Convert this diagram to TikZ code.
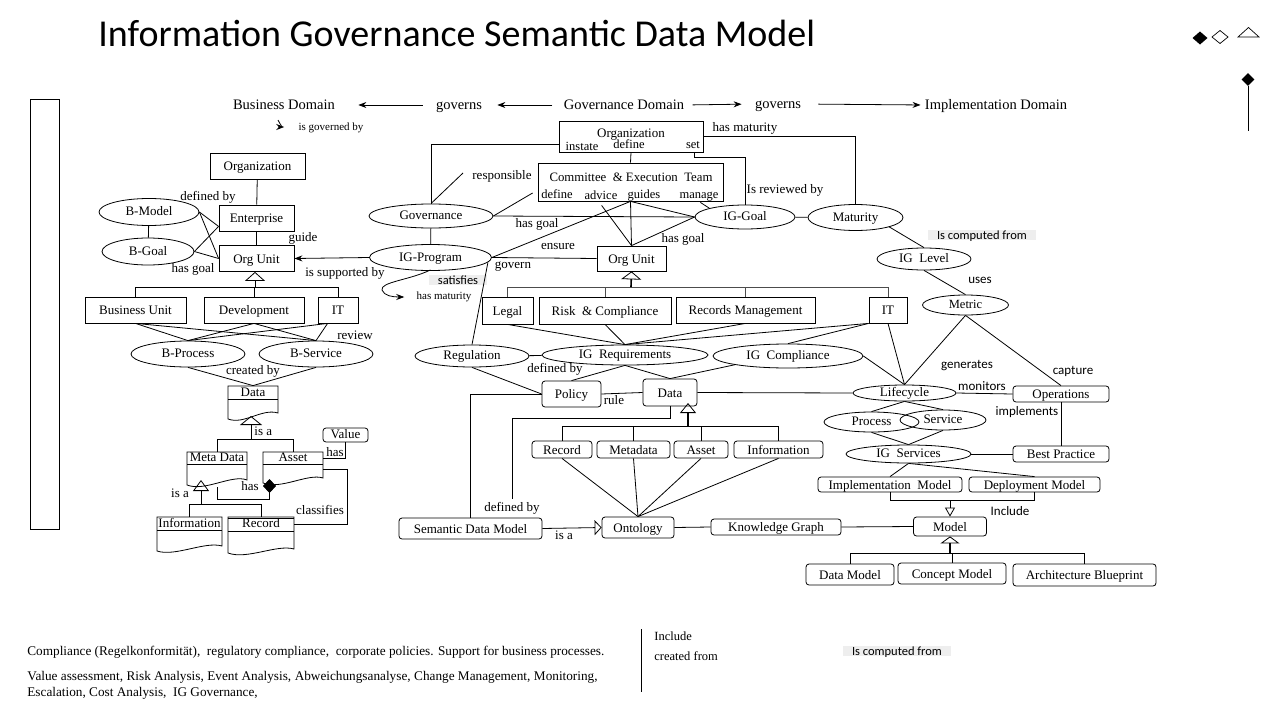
\documentclass[tikz,border=0pt]{standalone}
\usepackage{fontspec}
\setmainfont{Liberation Serif}
\newfontfamily\calfont{Carlito}
\usetikzlibrary{shapes.geometric,arrows.meta,calc}
\newcommand\myfs[1]{\fontsize{#1}{#1}\selectfont}
\begin{document}
\begin{tikzpicture}[x=1pt,y=-1pt, line width=0.8pt,
  box/.style={draw, rectangle, inner sep=0pt, font=\myfs{13}, text height=12pt, text depth=3pt},
  rbox/.style={box, rounded corners=3pt},
  ell/.style={draw, ellipse, inner sep=0pt, font=\myfs{13}, text height=9pt, text depth=2pt},
  lbl/.style={inner sep=0pt, font=\myfs{13}, text height=12pt, text depth=3pt},
  tlbl/.style={inner sep=0pt, font=\myfs{11}, text height=10pt, text depth=2.5pt},
  slbl/.style={inner sep=0pt, font=\calfont\myfs{13}, text height=12pt, text depth=3pt},
  hl/.style={inner xsep=9pt, inner ysep=0.8pt, fill=gray!13, font=\calfont\myfs{12.5}, text height=8.5pt, text depth=0pt},
  dom/.style={inner sep=0pt, font=\myfs{14.5}, text height=13pt, text depth=3.5pt},
  darr/.style={-{Stealth[length=8pt,width=6pt]}},
  stem/.style={line width=1.6pt},
  doclbl/.style={inner sep=0pt, font=\myfs{13}, text height=9.5pt, text depth=2.5pt},
]
\useasboundingbox (0,0) rectangle (1280,720);
\fill[white] (0,0) rectangle (1280,720);

% title
\node[anchor=base west, inner sep=0pt, font=\calfont\myfs{38}] (title) at (98,46) {Information Governance Semantic Data Model};

% top-right legend glyphs
\fill (1200,31.5) -- (1207.5,38) -- (1200,44.5) -- (1192.5,38) -- cycle;
\draw[line width=0.7pt] (1220,30.5) -- (1228,37) -- (1220,43.5) -- (1212,37) -- cycle;
\draw[line width=0.7pt] (1238,37) -- (1248.5,27.5) -- (1259,37) -- cycle;
\node[fill, diamond, inner sep=0pt, minimum width=13, minimum height=13] (legd) at (1248,79.5) {};
\coordinate (legend) at (1248,131);
\draw (legd.south) -- (legend);

% side bar
\node[draw, inner sep=0pt, minimum width=29, minimum height=430] (sidebar) at (44.5,314) {};

% domains
\node[dom] (bdom) at (284,105) {Business Domain};
\node[dom] (gv1) at (459,105) {governs};
\node[dom] (gdom) at (624,105) {Governance Domain};
\node[dom] (gv2) at (778,104) {governs};
\node[dom] (idom) at (996,105) {Implementation Domain};
\draw[darr, shorten <=13pt, shorten >=23pt] (gv1.west) -- (bdom.east);
\draw[darr, shorten <=11pt, shorten >=15pt] (gdom.west) -- (gv1.east);
\draw[darr, shorten <=8pt, shorten >=13pt] (gdom.east) -- (gv2.west);
\draw[darr, shorten <=17pt, shorten >=4pt] (gv2.east) -- (idom.west);

\node[tlbl] (isgov) at (331,127) {is governed by};
\coordinate (isgovs) at (278,120);
\draw[darr] (isgovs) .. controls (280,125) and (284,127) .. ($(isgov.west)+(-14,0)$);

% ---------------- left: business domain
\node[box, minimum width=95, minimum height=26] (lorg) at (257.5,166) {Organization};
\node[box, minimum width=75, minimum height=26] (lent) at (256.5,218) {Enterprise};
\node[box, minimum width=75, minimum height=26] (lou) at (256.5,258.5) {Org Unit};
\node[ell, minimum width=100, minimum height=27] (bmodel) at (149,212) {B-Model};
\node[ell, minimum width=92, minimum height=27] (bgoal) at (148,251.5) {B-Goal};
\draw (lorg) -- (lent);
\draw (lent) -- (lou);
\draw (bmodel) -- (bgoal);
\draw (bmodel.east) -- ($(lent.south west)+(0,-5)$);
\draw (bmodel.east) -- (lou.west);
\draw (bgoal.east) -- ($(lent.south west)+(0,-5)$);
\draw (bgoal.east) -- (lou.west);
\node[lbl] at (208,196) {defined by};
\node[lbl] at (193,268) {has goal};
\node[lbl] at (303,237) {guide};
\node[lbl] at (345,272) {is supported by};

\coordinate (lbar) at (255,287);
\node[box, minimum width=101, minimum height=26] (bu) at (135.5,310) {Business Unit};
\node[box, minimum width=100, minimum height=26] (dev) at (254,310) {Development};
\node[box, minimum width=40, minimum height=26] (lit) at (338,310) {IT};
\draw (bu.north) -- (bu.north |- lbar) -- (lit.north |- lbar) -- (lit.north);
\draw (dev.north) -- (dev.north |- lbar);
\draw[-{Triangle[open,length=9pt,width=20pt,line width=0.8pt]}] (lbar) -- (lbar |- lou.south);

\node[ell, minimum width=114, minimum height=26] (bproc) at (188,354) {B-Process};
\node[ell, minimum width=114, minimum height=26] (bserv) at (316,354) {B-Service};
\draw (bu.south) -- (bproc.north);
\draw (bu.south) -- (bserv.north);
\draw (dev.south) -- (bproc.north);
\draw (dev.south) -- (bserv.north);
\draw ($(lit.south west)+(10,0)$) -- (bproc.north);
\draw ($(lit.south west)+(10,0)$) -- (bserv.north);
\node[lbl] at (355,335) {review};
\node[lbl] at (253,370) {created by};

% Data document
\node[doclbl, minimum width=50, minimum height=13] (ldata) at (253,392.5) {Data};
\draw (228,386) -- (278,386) -- (278,413) .. controls (262,408) and (244,425) .. (228,419) -- cycle;
\draw (228,399) -- (278,399);
\draw (bproc.south) -- (ldata.north);
\draw (bserv.south) -- (ldata.north);

\coordinate (dbar) at (251,439);
\coordinate (ldatatri) at (251,416);
\node[doclbl, minimum width=60, minimum height=12] (lmeta) at (217,458) {Meta Data};
\draw (187,452) -- (247,452) -- (247,480) .. controls (232,474) and (205,492) .. (187,485) -- cycle;
\draw (187,464) -- (247,464);
\node[doclbl, minimum width=60, minimum height=12] (lasset) at (293,458) {Asset};
\draw (263,452) -- (323,452) -- (323,478) .. controls (308,473) and (281,490) .. (263,483) -- cycle;
\draw (263,464) -- (323,464);
\draw (lmeta.north) -- (lmeta.north |- dbar) -- (lasset.north |- dbar) -- (lasset.north);
\draw[-{Triangle[open,length=9pt,width=22pt,line width=0.8pt]}] (dbar) -- (ldatatri);
\node[lbl, anchor=west] at (254,431) {is a};

\node[rbox, minimum width=45, minimum height=14, text height=10pt, text depth=2.5pt] (lvalue) at (345.5,435) {Value};
\draw (lasset.east) -| (lvalue.south);
\node[lbl] at (335,452) {has};

\coordinate (mbar) at (201,504);
\coordinate (lmetatri) at (201,480);
\node[doclbl, minimum width=65, minimum height=13] (linfo) at (189.5,523.5) {Information};
\draw (157,517) -- (222,517) -- (222,546) .. controls (205,541) and (175,557) .. (157,551) -- cycle;
\draw (157,530) -- (222,530);
\node[doclbl, minimum width=66, minimum height=14] (lrecord) at (261,524) {Record};
\draw (228,517) -- (294,517) -- (294,549) .. controls (277,544) and (247,560) .. (228,553) -- cycle;
\draw (228,531) -- (294,531);
\draw (228,518.5) -- (294,518.5);
\draw (linfo.north) -- (linfo.north |- mbar) -- (lrecord.north |- mbar) -- (lrecord.north);
\draw[-{Triangle[open,length=11pt,width=16pt,line width=0.8pt]}] (mbar) -- (lmetatri);
\node[lbl] at (180,493) {is a};

\coordinate (assetbot) at (269.5,479);
\coordinate (metabot) at (217,487);
\draw[{Diamond[length=14pt,width=13pt]}-] (assetbot) -- (269.5,499) -| (metabot);
\node[lbl] at (250,486) {has};
\draw ($(lasset.east)+(0,11)$) -- ++(24,0) |- (lrecord.east);
\node[lbl] at (320,510) {classifies};

% ---------------- middle: governance domain
\node[box, minimum width=144, minimum height=31] (gorg) at (631,136.5) {};
\node[lbl] at (631,133) {Organization};
\node[lbl, font=\myfs{12.5}] at (582,146) {instate};
\node[lbl, font=\myfs{12.5}] at (629,144) {define};
\node[lbl, font=\myfs{12.5}] at (693,144) {set};
\node[box, minimum width=185, minimum height=38] (comm) at (630.5,182) {};
\node[lbl, font=\myfs{12.8}] at (631,177) {Committee~ \& Execution~ Team};
\node[lbl, font=\myfs{12.5}] at (557,194) {define};
\node[lbl, font=\myfs{12.5}] at (601,195) {advice};
\node[lbl, font=\myfs{12.5}] at (644,194) {guides};
\node[lbl, font=\myfs{12.5}] at (699,194) {manage};
\draw (gorg.south) -- (comm.north);

\node[ell, minimum width=124, minimum height=24] (gov) at (431,216) {Governance};
\node[ell, minimum width=100, minimum height=24] (iggoal) at (745,217) {IG-Goal};
\node[ell, minimum width=95, minimum height=26] (mat) at (855.5,217.5) {Maturity};
\node[ell, minimum width=122, minimum height=26] (igprog) at (430.5,257.5) {IG-Program};
\node[box, minimum width=69, minimum height=25] (gou) at (631.5,258.5) {Org Unit};

\draw ($(gorg.south west)+(0,-8)$) -| (gov.north);
\draw (gorg.east) -| (mat.north);
\node[lbl] at (745,127) {has maturity};
\draw ($(gorg.south east)+(-9,0)$) -- ++(0,5) -| (iggoal.north);
\node[lbl] at (785,189) {Is reviewed by};
\draw (iggoal) -- (mat);
\draw (gov) -- (igprog);
\coordinate (respend) at (463,173);
\draw ($(gov.north)+(1,-1)$) -- (respend);
\node[lbl] at (502,175) {responsible};
\draw (gov.east) -- ($(comm.west)+(-5,11)$);
\draw (gov.east) -- (iggoal.west);
\node[lbl] at (537,223) {has goal};
\draw (igprog.east) -- (comm.south);
\node[lbl] at (558,245) {ensure};
\draw (igprog.east) -- (gou.west);
\node[lbl] at (513,264) {govern};
\draw (comm.south) -- (gou.north);
\draw (comm.south) -- (iggoal.west);
\draw (gou.north) -- (iggoal.west);
\node[lbl] at (683,238) {has goal};
\draw ($(comm.south west)+(64,4)$) -- (gou.north);
\draw ($(comm.south east)+(-23,1)$) -- (iggoal.north west);
\draw[darr] (igprog.west) -- (lou.east);

\node[hl] at (458,280) {satisfies};
\node[tlbl] (hasmat) at (444,296) {has maturity};
\draw[darr] ($(igprog.south)+(0,-1)$) .. controls (410,280) and (380,282) .. (382,290) .. controls (384,296) and (393,297) .. ($(hasmat.west)+(-12,1)$);

\coordinate (gbar) at (631,287);
\node[box, minimum width=51, minimum height=27] (legal) at (507.5,310.5) {Legal};
\node[box, minimum width=132, minimum height=27] (risk) at (605,310.5) {Risk~ \& Compliance};
\node[box, minimum width=139, minimum height=26] (recm) at (745.5,310) {Records Management};
\node[box, minimum width=38, minimum height=26] (git) at (888,310) {IT};
\draw[draw=black!70] (legal.north) -- (legal.north |- gbar) -- (git.north |- gbar) -- (git.north);
\draw[draw=black!70] (risk.north) -- (risk.north |- gbar);
\draw[draw=black!70] (recm.north) -- (recm.north |- gbar);
\draw[stem, -{Triangle[open,length=8pt,width=20pt,line width=0.8pt]}] (gbar) -- (gou.south);

\node[ell, minimum width=166, minimum height=20] (igreq) at (625,355) {IG~ Requirements};
\node[ell, minimum width=114, minimum height=22] (reg) at (472,356) {Regulation};
\node[ell, minimum width=150, minimum height=24] (igcomp) at (788,356) {IG~ Compliance};
\draw (reg) -- (igreq);
\draw ($(igprog.east)+(-4,5)$) -- (reg.north);
\draw (legal.south) -- (igreq.north);
\draw (risk.south) -- (igreq.north);
\draw (recm.south) -- (igreq.north);
\draw (git.south west) -- (igreq.north);
\draw (git.south west) -- (igcomp.north);

\node[ell, minimum width=103, minimum height=16] (lifec) at (904.5,393) {Lifecycle};
\draw (igcomp.east) -- (lifec.north);
\draw (git.south) -- (lifec.north);

\node[rbox, minimum width=54, minimum height=27] (gdata) at (670,392.5) {Data};
\node[rbox, minimum width=59, minimum height=26] (policy) at (571.5,394) {Policy};
\draw (policy.east) -- (gdata.west);
\node[lbl] at (614,400) {rule};
\draw (igreq.south) -- (policy.north);
\node[lbl] at (555,368) {defined by};
\draw (igreq.south) -- (gdata.north);
\draw (igcomp.south west) -- (gdata.north);
\draw (reg.south) -- (policy.west);
\draw (gdata.east) -- (lifec.west);

\node[rbox, minimum width=143, minimum height=21] (sdm) at (470.5,528.5) {Semantic Data Model};
\draw (policy.west) -| (sdm.north);
\node[lbl] (defby2) at (512,507) {defined by};
\draw (gdata.south) -- ++(0,12) -| (defby2.north);

\coordinate (dbar2) at (688,426);
\coordinate (gdatatri) at (688,403);
\node[rbox, minimum width=60, minimum height=17] (grec) at (562,449.5) {Record};
\node[rbox, minimum width=73, minimum height=17] (gmeta) at (633.5,449.5) {Metadata};
\node[rbox, minimum width=54, minimum height=17] (gasset) at (701,449.5) {Asset};
\node[rbox, minimum width=89, minimum height=17] (ginfo) at (778.5,449.5) {Information};
\draw (grec.north) -- (grec.north |- dbar2) -- (ginfo.north |- dbar2) -- (ginfo.north);
\draw (gmeta.north) -- (gmeta.north |- dbar2);
\draw (gasset.north) -- (gasset.north |- dbar2);
\draw[stem, -{Triangle[open,length=10pt,width=16pt,line width=0.8pt]}] (dbar2) -- (gdatatri);

\node[rbox, minimum width=72, minimum height=21] (onto) at (638,527.5) {Ontology};
\draw (grec.south) -- (onto.north);
\draw (gmeta.south) -- (onto.north);
\draw (gasset.south) -- (onto.north);
\draw (ginfo.south) -- (onto.north);
\draw[-{Triangle[open,length=7pt,width=15pt,line width=0.8pt]}] (sdm.east) -- (onto.west);
\node[lbl] at (564,535) {is a};
\node[rbox, minimum width=130, minimum height=16] (kg) at (776,527) {Knowledge Graph};
\draw (onto.east) -- (kg.west);

% ---------------- right: implementation domain
\node[ell, minimum width=94, minimum height=22] (iglevel) at (924,259) {IG~ Level};
\node[ell, minimum width=86, minimum height=20, font=\myfs{12.5}] (metric) at (965.5,305) {Metric};
\draw (mat.south east) -- (iglevel.north);
\node[hl] at (982,235) {Is computed from};
\draw (iglevel.south) -- (metric.north);
\node[slbl] at (980,279) {uses};
\node[rbox, minimum width=96, minimum height=16] (ops) at (1061,394) {Operations};
\node[rbox, minimum width=96, minimum height=16] (bp) at (1061,454) {Best Practice};
\draw (metric.south) -- (lifec.north);
\node[slbl] at (967,364) {generates};
\draw (metric.south) -- (ops.north);
\node[slbl] at (1073,370) {capture};
\draw (lifec.east) -- (ops.west);
\node[slbl] at (982,386) {monitors};
\draw (ops.south) -- (bp.north);
\node[slbl] at (1027,411) {implements};

\node[ell, minimum width=125, minimum height=18] (igserv) at (908.5,454) {IG~ Services};
\node[ell, minimum width=95, minimum height=20] (proc) at (871.5,422) {Process};
\node[ell, minimum width=86, minimum height=20] (serv) at (943,420) {Service};
\draw (igserv.east) -- (bp.west);
\draw (lifec.south) -- (proc.north);
\draw (lifec.south) -- (serv.north);
\draw (proc.south) -- (igserv.north);
\draw (serv.south) -- (igserv.north);

\node[rbox, minimum width=144, minimum height=15] (impl) at (890,484.5) {Implementation~ Model};
\node[rbox, minimum width=131, minimum height=15] (depl) at (1034.5,484.5) {Deployment Model};
\draw (igserv.south) -- (impl.north);
\draw (igserv.south) -- (depl.north);
\node[rbox, minimum width=73, minimum height=19] (model) at (950,526.5) {Model};
\coordinate (incl) at (950,500);
\draw (impl.south) -- (impl.south |- incl) -- (depl.south |- incl) -- (depl.south);
\draw[-{Triangle[open,length=9pt,width=10pt,line width=0.8pt]}] (incl) -- (model.north);
\node[slbl] at (1010,511) {Include};
\draw (kg.east) -- (model.west);

\coordinate (mbar2) at (950,553);
\node[rbox, minimum width=88, minimum height=21] (dmod) at (850,574.5) {Data Model};
\node[rbox, minimum width=108, minimum height=21] (cmod) at (952,573.5) {Concept Model};
\node[rbox, minimum width=143, minimum height=22] (arch) at (1084.5,575) {Architecture Blueprint};
\draw (dmod.north) -- (dmod.north |- mbar2) -- (arch.north |- mbar2) -- (arch.north);
\draw (cmod.north) -- (cmod.north |- mbar2);
\draw[stem, -{Triangle[open,length=7pt,width=19pt,line width=0.8pt]}] (mbar2) -- (model.south);

% ---------------- bottom notes
\node[anchor=base west, inner sep=0pt, font=\myfs{13.25}] (note1) at (27,655) {Compliance (Regelkonformität), \ regulatory compliance, \ corporate policies. Support for business processes.};
\node[anchor=base west, inner sep=0pt, font=\myfs{13.25}] (note2) at (27,680) {Value assessment,\hspace{3.5pt}Risk Analysis,\hspace{3.5pt}Event Analysis,\hspace{3.5pt}Abweichungsanalyse,\hspace{3.5pt}Change Management,\hspace{3.5pt}Monitoring,};
\node[anchor=base west, inner sep=0pt, font=\myfs{13.25}] (note3) at (27,696) {Escalation, Cost Analysis, \ IG Governance,};
\coordinate (vtop) at (641,629);
\coordinate (vbot) at (641,692);
\draw[line width=0.9pt] (vtop) -- (vbot);
\node[anchor=base west, inner sep=0pt, font=\myfs{12.5}] (inc2) at (654,640) {Include};
\node[anchor=base west, inner sep=0pt, font=\myfs{12.5}] (cf) at (654,660) {created from};
\node[hl] (icf) at (897,651) {Is computed from};
\end{tikzpicture}
\end{document}
